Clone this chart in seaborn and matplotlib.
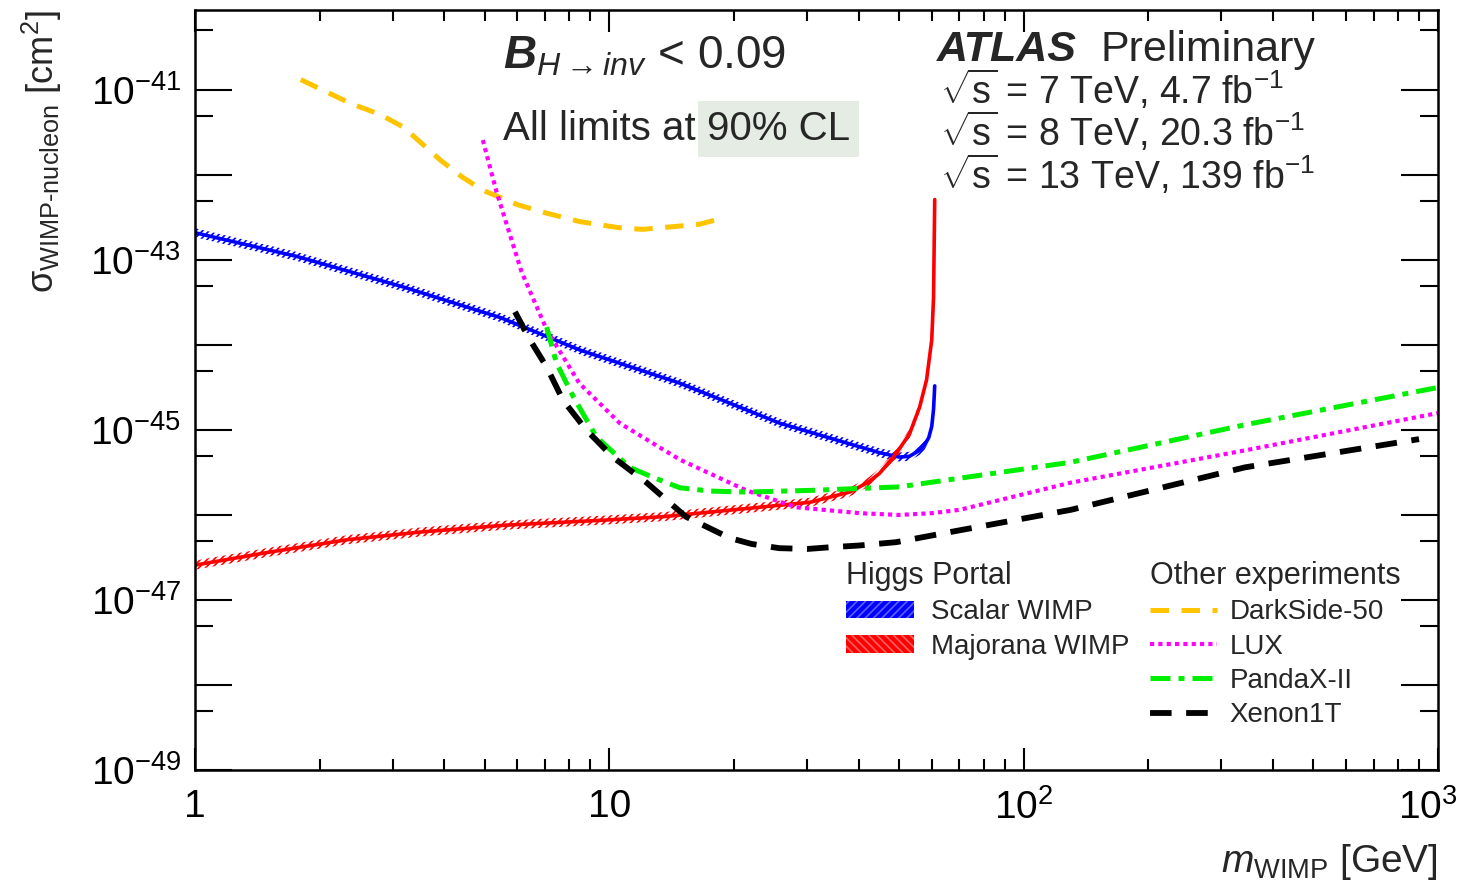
import numpy as np
import matplotlib
matplotlib.use("Agg")
import matplotlib.pyplot as plt
import seaborn as sns
from matplotlib.ticker import FixedLocator, FuncFormatter, NullFormatter
from matplotlib.transforms import ScaledTranslation
from matplotlib.lines import Line2D
from matplotlib.patches import Patch

# values (WIMP mass in GeV, cross-section in cm^2)
scalar_m = [1.0, 1.76, 3.19, 5.47, 8.5, 14.8, 25.8, 44.9, 50.1, 53.0, 56.1, 57.6,
            59.0, 60.0, 60.6, 61.0]
scalar_xs = [2.09e-43, 1.10e-43, 4.79e-44, 2.09e-44, 8.7e-45, 3.55e-45, 1.20e-45,
             5.4e-46, 4.8e-46, 4.9e-46, 5.75e-46, 6.6e-46, 8.1e-46, 1.10e-45,
             1.74e-45, 3.3e-45]

majorana_m = [1.0, 1.5, 2.34, 3.5, 5.63, 9.75, 13.5, 30.5, 38.0, 42.0, 44.9, 49.4,
              53.1, 56.1, 58.3, 60.0, 60.6, 61.0]
majorana_xs = [2.57e-47, 3.63e-47, 5.13e-47, 6.3e-47, 7.59e-47, 8.7e-47, 9.55e-47,
               1.41e-46, 1.86e-46, 2.40e-46, 3.09e-46, 5.37e-46, 9.12e-46, 1.86e-45,
               3.89e-45, 1.15e-44, 3.63e-44, 5.13e-43]

darkside_m = [1.80, 2.38, 2.8, 3.19, 3.90, 4.4, 4.95, 6.0, 7.06, 8.5, 10.5, 12.0,
              14.1, 16.5, 18.7]
darkside_xs = [1.32e-41, 6.9e-42, 5.13e-42, 3.63e-42, 1.51e-42, 9.55e-43, 6.6e-43,
               4.47e-43, 3.55e-43, 2.82e-43, 2.40e-43, 2.29e-43, 2.45e-43, 2.63e-43,
               3.09e-43]

lux_m = [4.95, 5.35, 6.14, 7.06, 8.46, 10.6, 14.8, 21.4, 28.3, 40.2, 50.0, 60.0,
         70.1, 130, 342, 1000]
lux_xs = [2.57e-42, 6.17e-43, 7.24e-44, 1.51e-44, 3.55e-45, 1.20e-45, 4.47e-46,
          1.95e-46, 1.23e-46, 1.05e-46, 1.0e-46, 1.05e-46, 1.15e-46, 2.40e-46,
          5.75e-46, 1.58e-45]

pandax_m = [7.06, 7.45, 8.19, 9.3, 11.2, 12.8, 14.8, 17.5, 21.4, 31.0, 50.1, 130,
            342, 1000]
pandax_xs = [1.62e-44, 6.17e-45, 2.45e-45, 8.3e-46, 3.63e-46, 2.75e-46, 2.09e-46,
             1.91e-46, 1.86e-46, 1.95e-46, 2.14e-46, 4.17e-46, 1.15e-45, 3.16e-45]

xenon_m = [5.92, 6.43, 7.06, 7.73, 8.80, 10.2, 12.3, 15.3, 19.5, 22.0, 25.7, 30.0,
           34.1, 40.0, 49.3, 65.0, 130, 342, 900]
xenon_xs = [2.45e-44, 1.15e-44, 5.5e-45, 2.24e-45, 1.0e-45, 4.79e-46, 2.40e-46,
            9.55e-47, 5.37e-47, 4.57e-47, 4.07e-47, 3.98e-47, 4.17e-47, 4.37e-47,
            4.79e-47, 6.17e-47, 1.15e-46, 3.63e-46, 7.8e-46]

x_tick_labels = {1: "1", 10: "10", 100: "$10^{2}$", 1000: "$10^{3}$"}

sns.set_style("ticks")
plt.rcParams["font.family"] = ["Liberation Sans", "DejaVu Sans"]
plt.rcParams["mathtext.fontset"] = "custom"
plt.rcParams["mathtext.rm"] = "Liberation Sans"
plt.rcParams["mathtext.sf"] = "Liberation Sans"
plt.rcParams["mathtext.it"] = "Liberation Sans:italic"
plt.rcParams["mathtext.bf"] = "Liberation Sans:bold:italic"
plt.rcParams["hatch.linewidth"] = 1.2

W, H = 1463, 890
fig = plt.figure(figsize=(W / 100, H / 100), dpi=100)
ax = fig.add_axes([195 / W, 1 - 770 / H, 1243 / W, 760 / H])


def fx(px):
    return px / W


def fy(py):
    return 1 - py / H


# Higgs portal limits: line plus a thin hatched band
for m, xs, col in [(scalar_m, scalar_xs, "#0000ff"), (majorana_m, majorana_xs, "#ff0000")]:
    sns.lineplot(x=m, y=xs, ax=ax, color=col, linewidth=2.6, estimator=None, sort=False)
    ax.fill_between(m, np.array(xs) / 1.13, np.array(xs) * 1.13, facecolor="none",
                    edgecolor=col, hatch="/////", linewidth=0)

# other experiments
styles = {
    "DarkSide-50": (darkside_m, darkside_xs, "#ffc400", 3.6, (0, (3.7, 2.5))),
    "LUX": (lux_m, lux_xs, "#ff00ff", 3.0, (0, (1.0, 1.0))),
    "PandaX-II": (pandax_m, pandax_xs, "#00ee00", 3.6, (0, (4.0, 1.6, 1.2, 1.6))),
    "Xenon1T": (xenon_m, xenon_xs, "black", 4.2, (0, (3.7, 2.5))),
}
for name, (m, xs, col, lw, ls) in styles.items():
    sns.lineplot(x=m, y=xs, ax=ax, color=col, linewidth=lw, linestyle=ls,
                 estimator=None, sort=False)

ax.set_xscale("log")
ax.set_yscale("log")
ax.set_xlim(1, 1000)
ax.set_ylim(1e-49, 10 ** -40.06)

ax.xaxis.set_major_locator(FixedLocator([1, 10, 100, 1000]))
ax.xaxis.set_minor_locator(FixedLocator([k * 10.0 ** d for d in range(3) for k in range(2, 10)]))
ax.xaxis.set_major_formatter(FuncFormatter(lambda v, p: x_tick_labels.get(int(round(v)), "")))
ax.xaxis.set_minor_formatter(NullFormatter())

y_exp = np.arange(-49, -39)
ax.yaxis.set_major_locator(FixedLocator(10.0 ** y_exp))
ax.yaxis.set_minor_locator(FixedLocator(5 * 10.0 ** (y_exp - 1)))


def ylab(v, p):
    e = int(round(np.log10(v)))
    return "$10^{%d}$" % e if e % 2 != 0 else ""


ax.yaxis.set_major_formatter(FuncFormatter(ylab))
ax.yaxis.set_minor_formatter(NullFormatter())

ax.tick_params(which="both", direction="in", top=True, right=True, width=1.5,
               labelsize=28, colors="black")
ax.tick_params(axis="x", which="major", length=16, pad=14)
ax.tick_params(axis="x", which="minor", length=8)
ax.tick_params(axis="y", which="major", length=26.6, pad=10)
ax.tick_params(axis="y", which="minor", length=13)
for s in ax.spines.values():
    s.set_linewidth(1.8)
    s.set_color("black")

# keep the last x label inside the figure, as in the reference
last = ax.xaxis.get_major_ticks()[-1].label1
last.set_transform(last.get_transform() + ScaledTranslation(-7 / 72, 0, fig.dpi_scale_trans))

ax.set_xlabel(r"$m_{\mathrm{WIMP}}$ [GeV]", fontsize=28, ha="right", va="top")
ax.xaxis.set_label_coords(1.0, -0.095)
ax.set_ylabel("$\\mathrm{\u03c3}_{\\mathrm{WIMP\u2010nucleon}}$ [cm$^{2}$]", fontsize=26,
              rotation=90, rotation_mode="default", ha="center", va="top")
ax.yaxis.set_label_coords(-0.123, 1.0)

# annotations
fig.text(fx(503), fy(68), r"$\mathbf{B}_{H\rightarrow inv}$ < 0.09", fontsize=33,
         va="baseline", ha="left")
fig.text(fx(503), fy(140), "All limits at", fontsize=29, va="baseline", ha="left")
fig.text(fx(707), fy(140), "90% CL", fontsize=29, va="baseline", ha="left",
         bbox=dict(boxstyle="square,pad=0.22", facecolor="#e4ece4", edgecolor="none"))

fig.text(fx(937), fy(61), "ATLAS", fontsize=31, fontweight="bold", style="italic",
         va="baseline", ha="left")
fig.text(fx(1100), fy(61), "Preliminary", fontsize=31, va="baseline", ha="left")
for py, txt in [(104, "7 TeV, 4.7 fb"), (146, "8 TeV, 20.3 fb"), (189, "13 TeV, 139 fb")]:
    fig.text(fx(940), fy(py), r"$\sqrt{\mathrm{s}}$ = " + txt + "$^{-1}$", fontsize=27,
             va="baseline", ha="left")

# legends
h1 = [Patch(facecolor="#0000ff", edgecolor="#6060ff", hatch="////", linewidth=0),
      Patch(facecolor="#ff0000", edgecolor="#ff6060", hatch="\\\\\\\\", linewidth=0)]
leg1 = ax.legend(h1, ["Scalar WIMP", "Majorana WIMP"], title="Higgs Portal",
                 loc="upper left", bbox_to_anchor=(fx(846), fy(561)),
                 bbox_transform=fig.transFigure, frameon=False, fontsize=20,
                 title_fontsize=22, alignment="left", borderpad=0, borderaxespad=0,
                 handlelength=2.45, handleheight=0.6, handletextpad=0.6,
                 labelspacing=0.3)
ax.add_artist(leg1)

h2 = [Line2D([], [], color=c, linewidth=lw, linestyle=ls)
      for (m, xs, c, lw, ls) in styles.values()]
ax.legend(h2, list(styles.keys()), title="Other experiments", loc="upper left",
          bbox_to_anchor=(fx(1150), fy(561)), bbox_transform=fig.transFigure,
          frameon=False, fontsize=20, title_fontsize=22, alignment="left",
          borderpad=0, borderaxespad=0, handlelength=2.4, handletextpad=0.47,
          labelspacing=0.3)

fig.savefig("out.png", dpi=100)
